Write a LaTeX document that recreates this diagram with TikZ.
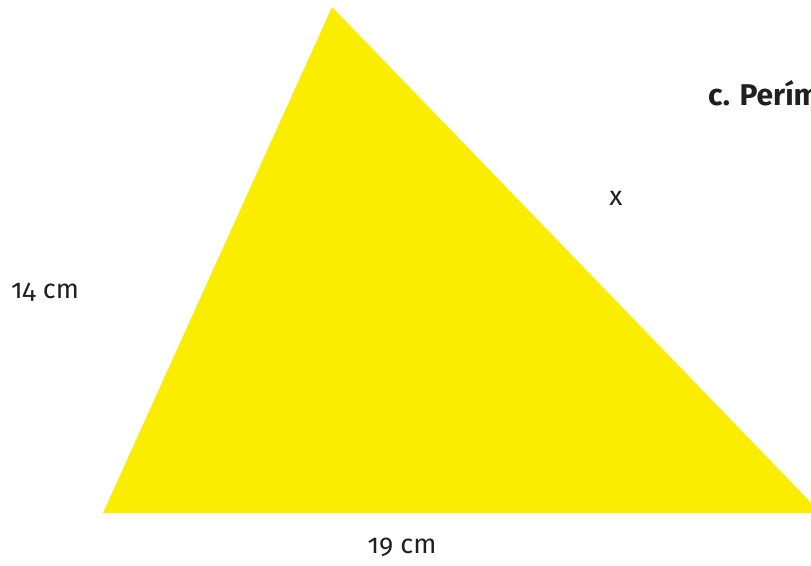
\documentclass[tikz,border=0pt]{standalone}
\usepackage{fontspec}
\setmainfont[Numbers=OldStyle]{Fira Sans}
\definecolor{triyellow}{RGB}{250,237,0}
\definecolor{txtgray}{RGB}{35,31,32}
\begin{document}
\begin{tikzpicture}[x=1pt,y=1pt,
  lbl/.style={font=\fontsize{27}{32}\selectfont, text=txtgray, inner sep=0pt},
  ttl/.style={font=\bfseries\fontsize{30}{36}\selectfont, text=txtgray, inner sep=0pt}]
\useasboundingbox (0,0) rectangle (811,565);
\coordinate (A) at (103,52);
\coordinate (B) at (332,558);
\coordinate (C) at (821,52);
\fill[triyellow] (A) -- (B) -- (C) -- cycle;
\node[lbl] (l14) at (45,273) {14 cm};
\node[lbl] (l19) at (402,18) {19 cm};
\node[lbl] (lx) at (616,367) {x};
\node[ttl, anchor=base west] (title) at (708,459) {c. Perím};
\end{tikzpicture}
\end{document}
